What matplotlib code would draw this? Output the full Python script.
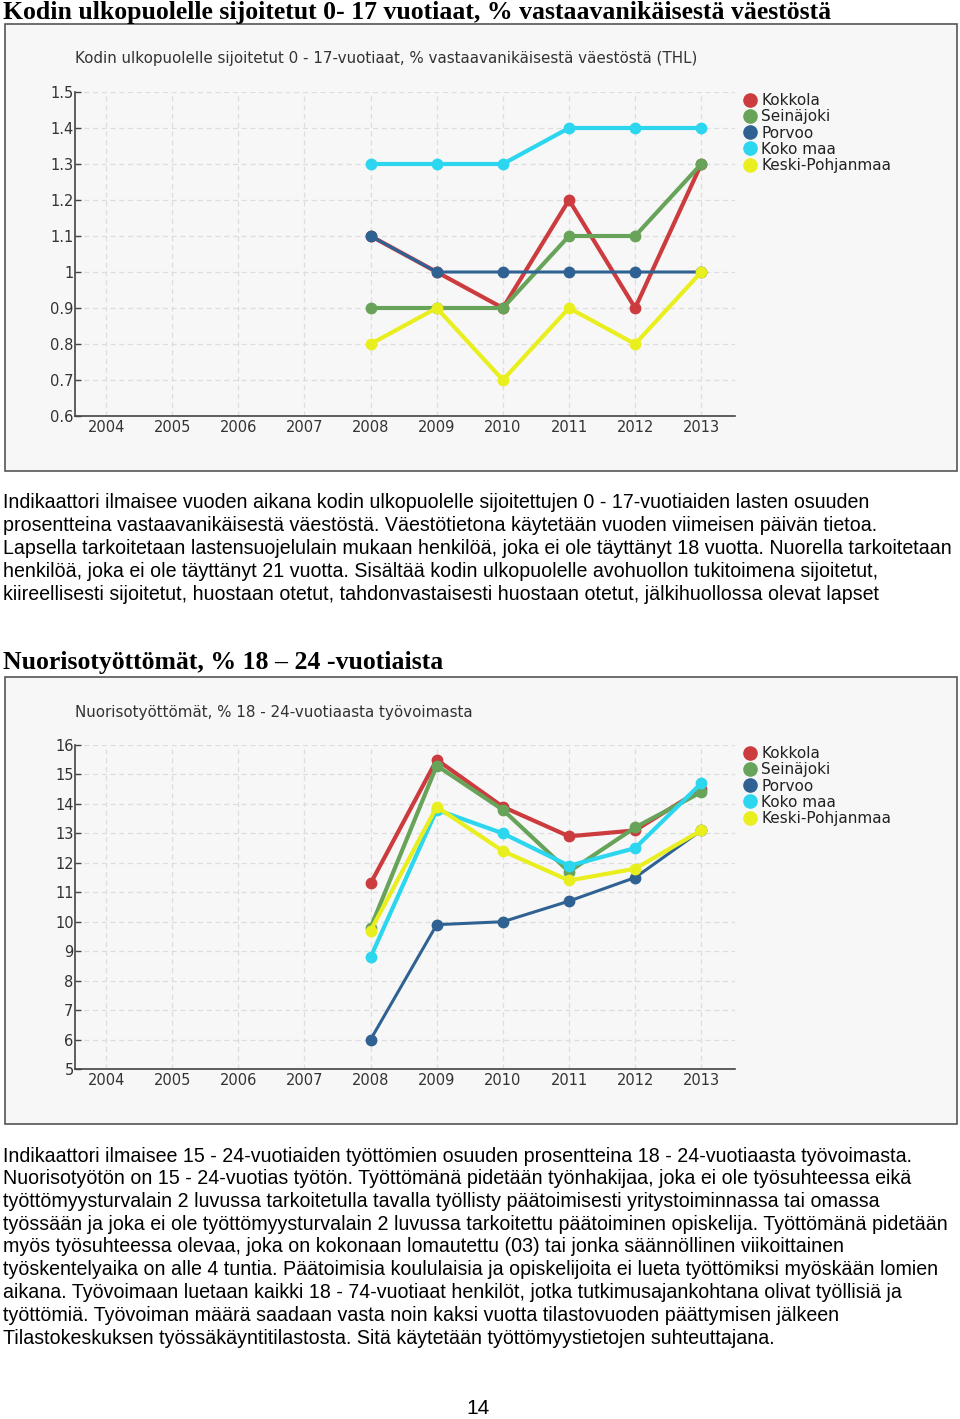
import numpy as np
import matplotlib
matplotlib.use("Agg")
import matplotlib.pyplot as plt
from matplotlib.patches import Rectangle
from matplotlib.lines import Line2D
from matplotlib.ticker import FuncFormatter

W, H = 960, 1419

years = [2004, 2005, 2006, 2007, 2008, 2009, 2010, 2011, 2012, 2013]
series_names = ["Kokkola", "Seinäjoki", "Porvoo", "Koko maa", "Keski-Pohjanmaa"]
colors = ["#cc3b3e", "#68a35a", "#2f6292", "#2bd6ee", "#e9ef1e"]
nan = np.nan

# Chart 1: Kodin ulkopuolelle sijoitetut 0-17-vuotiaat (%)
sij_kokkola = [nan, nan, nan, nan, 1.1, 1.0, 0.9, 1.2, 0.9, 1.3]
sij_seinajoki = [nan, nan, nan, nan, 0.9, 0.9, 0.9, 1.1, 1.1, 1.3]
sij_porvoo = [nan, nan, nan, nan, 1.1, 1.0, 1.0, 1.0, 1.0, 1.0]
sij_kokomaa = [nan, nan, nan, nan, 1.3, 1.3, 1.3, 1.4, 1.4, 1.4]
sij_keskip = [nan, nan, nan, nan, 0.8, 0.9, 0.7, 0.9, 0.8, 1.0]
sij_ticks = [0.6, 0.7, 0.8, 0.9, 1.0, 1.1, 1.2, 1.3, 1.4, 1.5]

# Chart 2: Nuorisotyöttömät (%)
nt_kokkola = [nan, nan, nan, nan, 11.3, 15.5, 13.9, 12.9, 13.1, 14.5]
nt_seinajoki = [nan, nan, nan, nan, 9.8, 15.3, 13.8, 11.7, 13.2, 14.4]
nt_porvoo = [nan, nan, nan, nan, 6.0, 9.9, 10.0, 10.7, 11.5, 13.1]
nt_kokomaa = [nan, nan, nan, nan, 8.8, 13.8, 13.0, 11.9, 12.5, 14.7]
nt_keskip = [nan, nan, nan, nan, 9.7, 13.9, 12.4, 11.4, 11.8, 13.1]
nt_ticks = [5, 6, 7, 8, 9, 10, 11, 12, 13, 14, 15, 16]

heading1 = "Kodin ulkopuolelle sijoitetut 0- 17 vuotiaat, % vastaavanikäisestä väestöstä"
inner1 = "Kodin ulkopuolelle sijoitetut 0 - 17-vuotiaat, % vastaavanikäisestä väestöstä (THL)"
heading2 = "Nuorisotyöttömät, % 18 – 24 -vuotiaista"
inner2 = "Nuorisotyöttömät, % 18 - 24-vuotiaasta työvoimasta"

para1 = [
    "Indikaattori ilmaisee vuoden aikana kodin ulkopuolelle sijoitettujen 0 - 17-vuotiaiden lasten osuuden",
    "prosentteina vastaavanikäisestä väestöstä. Väestötietona käytetään vuoden viimeisen päivän tietoa.",
    "Lapsella tarkoitetaan lastensuojelulain mukaan henkilöä, joka ei ole täyttänyt 18 vuotta. Nuorella tarkoitetaan",
    "henkilöä, joka ei ole täyttänyt 21 vuotta. Sisältää kodin ulkopuolelle avohuollon tukitoimena sijoitetut,",
    "kiireellisesti sijoitetut, huostaan otetut, tahdonvastaisesti huostaan otetut, jälkihuollossa olevat lapset",
]
para2 = [
    "Indikaattori ilmaisee 15 - 24-vuotiaiden työttömien osuuden prosentteina 18 - 24-vuotiaasta työvoimasta.",
    "Nuorisotyötön on 15 - 24-vuotias työtön. Työttömänä pidetään työnhakijaa, joka ei ole työsuhteessa eikä",
    "työttömyysturvalain 2 luvussa tarkoitetulla tavalla työllisty päätoimisesti yritystoiminnassa tai omassa",
    "työssään ja joka ei ole työttömyysturvalain 2 luvussa tarkoitettu päätoiminen opiskelija. Työttömänä pidetään",
    "myös työsuhteessa olevaa, joka on kokonaan lomautettu (03) tai jonka säännöllinen viikoittainen",
    "työskentelyaika on alle 4 tuntia. Päätoimisia koululaisia ja opiskelijoita ei lueta työttömiksi myöskään lomien",
    "aikana. Työvoimaan luetaan kaikki 18 - 74-vuotiaat henkilöt, jotka tutkimusajankohtana olivat työllisiä ja",
    "työttömiä. Työvoiman määrä saadaan vasta noin kaksi vuotta tilastovuoden päättymisen jälkeen",
    "Tilastokeskuksen työssäkäyntitilastosta. Sitä käytetään työttömyystietojen suhteuttajana.",
]
page_no = "14"

fig = plt.figure(figsize=(W / 100, H / 100), dpi=100)
fig.patch.set_facecolor("white")


def fx(x):
    return x / W


def fy(y):
    return 1 - y / H


def box(x0, y0, x1, y1):
    return [fx(x0), fy(y1), (x1 - x0) / W, (y1 - y0) / H]


HEAD_FONT = dict(family="Liberation Serif", weight="bold", fontsize=18.5, color="black")
PARA_FONT = dict(family="Liberation Sans", fontsize=14.1, color="black")
SMALL = dict(family="DejaVu Sans", fontsize=10.9, color="#333333")


def draw_chart(top, data_list, yticks, ylim, inner_title, fmt):
    bx0, by0, bx1, by1 = 5, top, 957, top + 447
    fig.add_artist(Rectangle((fx(bx0), fy(by1)), (bx1 - bx0) / W, (by1 - by0) / H,
                             transform=fig.transFigure, facecolor="#f7f7f7",
                             edgecolor="#555555", lw=1.2, zorder=0))
    fig.text(fx(75), fy(top + 35), inner_title, ha="left", va="center", **SMALL)
    ax = fig.add_axes(box(75, top + 68, 735, top + 392))
    ax.set_facecolor("none")
    handles = []
    for vals, name, c in zip(data_list, series_names, colors):
        lw = 2.2 if name == "Porvoo" else 3
        ax.plot(years, vals, color=c, lw=lw, marker="o", ms=7.5,
                markeredgecolor=c, solid_joinstyle="round", zorder=3)
        handles.append(Line2D([], [], color=c, marker="o", ms=9.5, lw=0))
    ax.set_xlim(2003.53, 2013.51)
    ax.set_ylim(*ylim)
    ax.set_xticks(years)
    ax.set_yticks(yticks)
    ax.yaxis.set_major_formatter(FuncFormatter(fmt))
    for s in ["top", "right"]:
        ax.spines[s].set_visible(False)
    for s in ["left", "bottom"]:
        ax.spines[s].set_color("#444444")
        ax.spines[s].set_linewidth(1.2)
    ax.tick_params(axis="x", length=0, pad=3, labelsize=10.5, labelcolor="#333333")
    ax.tick_params(axis="y", length=4, width=1, direction="in", pad=1,
                   labelsize=10.5, labelcolor="#333333", color="#444444")
    for lab in ax.get_xticklabels() + ax.get_yticklabels():
        lab.set_family("DejaVu Sans")
    ax.grid(True, color="#dddddd", ls=(0, (4, 3)), lw=0.9, zorder=0)
    ax.legend(handles=handles, labels=series_names, loc="upper left",
              bbox_to_anchor=(fx(739), fy(top + 63)), bbox_transform=fig.transFigure,
              frameon=False, handlelength=0.6, handletextpad=0.45, labelspacing=0.08,
              borderaxespad=0, prop=dict(family="DejaVu Sans", size=11), labelcolor="#222222")
    return ax


def fmt_g(v, pos):
    return "%g" % v


fig.text(fx(3), fy(12), heading1, ha="left", va="center", **HEAD_FONT)
draw_chart(24, [sij_kokkola, sij_seinajoki, sij_porvoo, sij_kokomaa, sij_keskip],
           sij_ticks, (0.6, 1.5), inner1, fmt_g)

line_h = 22.75
for i, t in enumerate(para1):
    fig.text(fx(3), fy(503 + i * line_h), t, ha="left", va="center", **PARA_FONT)

fig.text(fx(3), fy(663), heading2, ha="left", va="center", **HEAD_FONT)
draw_chart(677, [nt_kokkola, nt_seinajoki, nt_porvoo, nt_kokomaa, nt_keskip],
           nt_ticks, (5, 16), inner2, fmt_g)

for i, t in enumerate(para2):
    fig.text(fx(3), fy(1156 + i * line_h), t, ha="left", va="center", **PARA_FONT)

fig.text(fx(478), fy(1408), page_no, ha="center", va="center",
         family="Liberation Sans", fontsize=15, color="black")

fig.savefig("out.png", dpi=100, facecolor="white")
